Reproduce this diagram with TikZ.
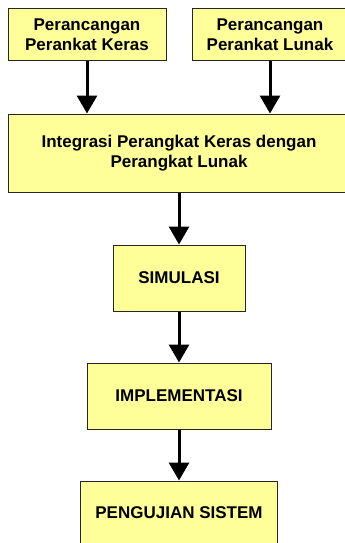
\documentclass[tikz,border=0pt]{standalone}
\usepackage{fontspec}
\setmainfont{Liberation Sans}
\usetikzlibrary{arrows.meta}
\definecolor{kotak}{RGB}{255,255,153}

\begin{document}
\begin{tikzpicture}[x=1pt,y=-1pt,
    kotak/.style={draw=black!85, line width=1pt, fill=kotak, align=center,
        font=\fontsize{17}{20}\selectfont\bfseries, inner sep=0pt},
    panah/.style={line width=3pt, -{Triangle[width=20pt,length=18pt]}}]
        \clip (0,0) rectangle (345,543);
        \node[kotak, minimum width=158pt, minimum height=52pt] (pk) at (87,35) {Perancangan\\Perankat Keras};
        \node[kotak, minimum width=156pt, minimum height=52pt] (pl) at (270,35) {Perancangan\\Perankat Lunak};
        \node[kotak, minimum width=342pt, minimum height=78pt] (integ) at (179,153) {Integrasi Perangkat Keras dengan\\Perangkat Lunak};
        \node[kotak, minimum width=132pt, minimum height=66pt] (sim) at (179,278) {SIMULASI};
        \node[kotak, minimum width=184pt, minimum height=66pt] (impl) at (179,396) {IMPLEMENTASI};
        \node[kotak, minimum width=197pt, minimum height=64pt] (uji) at (179,513) {PENGUJIAN SISTEM};

        \draw[panah] (pk.south) to (pk.south |- integ.north);
        \draw[panah] (pl.south) to (pl.south |- integ.north);
        \draw[panah] (integ.south) to (sim.north);
        \draw[panah] (sim.south) to (impl.north);
        \draw[panah] (impl.south) to (uji.north);
\end{tikzpicture}
\end{document}
